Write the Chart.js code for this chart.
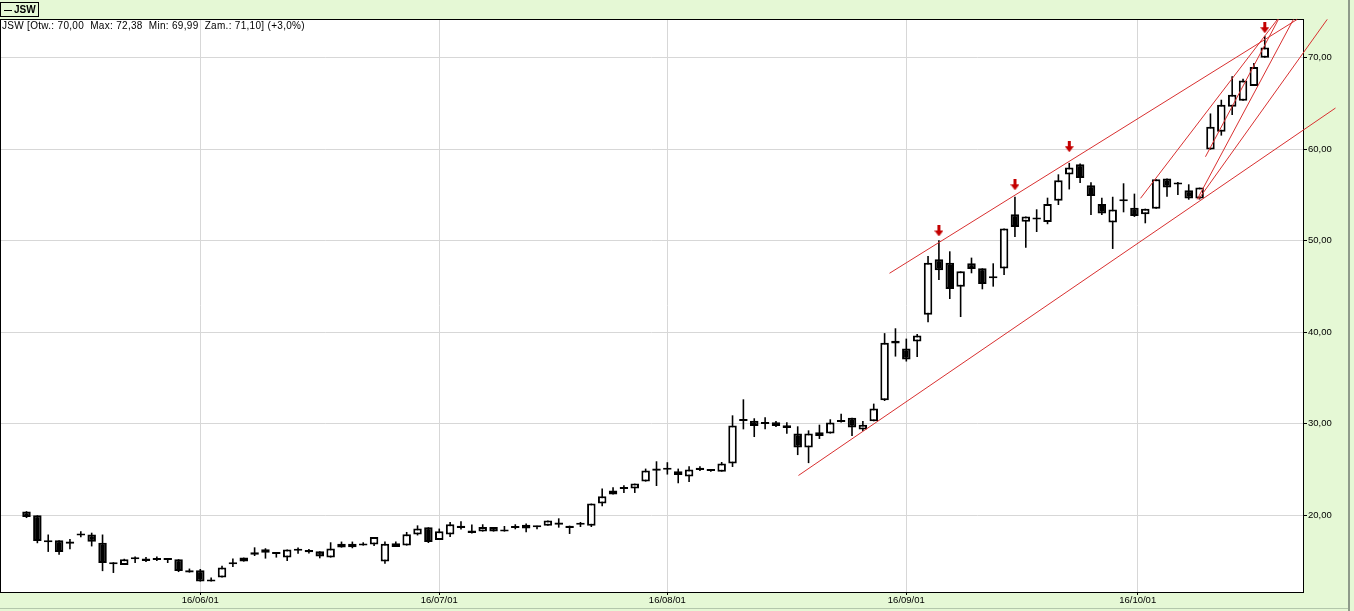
<!DOCTYPE html>
<html>
<head>
<meta charset="utf-8">
<title>JSW</title>
<script src="https://cdn.jsdelivr.net/npm/chart.js@4.4.1/dist/chart.umd.min.js"></script>
<style>
  html, body { margin: 0; padding: 0; background: #e5f8d5; overflow: hidden; }
  #wrap { position: relative; width: 1354px; height: 611px; }
  #jswChart { position: absolute; left: 0; top: 0; }
  #legendBox {
    position: absolute; left: 0; top: 2px; width: 37px; height: 13px;
    border: 1px solid #000; font: bold 10px "Liberation Sans", Arial, sans-serif;
    line-height: 13px; color: #000; white-space: nowrap;
  }
  #legendBox .swatch {
    display: inline-block; width: 8px; height: 1px; background: #000;
    vertical-align: middle; margin: 0 2px 0 3px;
  }
  #info {
    position: absolute; left: 2px; top: 20px;
    font: 10px "Liberation Sans", Arial, sans-serif; letter-spacing: 0.3px;
    line-height: 12px; color: #000; white-space: pre;
  }
</style>
</head>
<body>
<div id="wrap">
  <canvas id="jswChart" width="1354" height="611"></canvas>
  <div id="legendBox"><span class="swatch"></span>JSW</div>
  <div id="info">JSW [Otw.: 70,00  Max: 72,38  Min: 69,99  Zam.: 71,10] (+3,0%)</div>
</div>
<script>
// notowania dzienne JSW, kolejne sesje od 0
const opens = [
    20.42, 20.00, 17.05, 17.27, 16.90, 17.78, 17.90, 17.00, 14.87, 14.57,
    15.38, 15.27, 15.34, 15.30, 15.20, 14.00, 14.00, 12.76, 13.20, 14.65,
    14.94, 15.70, 16.29, 15.96, 15.38, 16.30, 16.20, 16.07, 15.38, 16.47,
    16.90, 16.69, 16.80, 14.94, 16.94, 16.69, 17.89, 18.69, 17.30, 17.89,
    18.87, 18.33, 18.22, 18.72, 18.33, 18.80, 18.98, 18.87, 18.87, 19.20,
    18.87, 18.96, 18.87, 21.28, 22.26, 22.86, 22.92, 23.68, 25.10, 24.98,
    24.80, 24.23, 25.20, 25.00, 24.77, 25.65, 30.45, 30.34, 30.16, 30.16,
    29.83, 28.93, 27.40, 29.07, 28.93, 30.38, 30.67, 29.36, 30.27, 32.56,
    39.08, 38.21, 38.98, 41.90, 47.97, 47.60, 44.98, 47.53, 46.98, 45.90,
    46.95, 52.88, 52.08, 52.32, 52.04, 54.37, 57.24, 58.35, 56.05, 54.00,
    52.00, 54.31, 53.60, 52.88, 53.50, 56.80, 56.14, 55.50, 54.60, 59.95,
    61.90, 64.64, 65.30, 66.90, 70.00
];
const highs = [
    20.45, 20.00, 17.90, 17.27, 17.40, 18.25, 18.10, 17.90, 14.87, 15.25,
    15.50, 15.45, 15.49, 15.30, 15.20, 14.18, 14.13, 13.20, 14.50, 15.27,
    15.38, 16.50, 16.40, 15.96, 16.25, 16.47, 16.32, 16.07, 17.05, 17.13,
    17.13, 17.05, 17.63, 17.13, 17.13, 18.18, 18.90, 18.69, 18.55, 19.27,
    19.34, 19.00, 19.02, 18.72, 18.83, 19.02, 19.09, 18.87, 19.42, 19.67,
    18.87, 19.27, 21.28, 22.92, 23.06, 23.28, 23.46, 25.10, 25.90, 25.80,
    25.10, 25.35, 25.35, 25.05, 25.82, 30.92, 32.67, 30.60, 30.70, 30.30,
    30.16, 29.72, 29.28, 29.90, 30.49, 31.10, 30.67, 30.30, 32.20, 39.90,
    40.43, 39.30, 39.80, 48.33, 50.04, 48.84, 46.65, 48.15, 46.98, 47.53,
    51.32, 54.80, 52.63, 53.43, 54.70, 57.25, 58.50, 58.42, 56.38, 54.70,
    54.80, 56.27, 55.14, 53.50, 56.70, 56.80, 56.40, 56.16, 55.80, 63.90,
    65.40, 67.96, 67.70, 69.40, 72.38
];
const lows = [
    19.70, 16.95, 16.00, 15.70, 16.30, 17.60, 16.60, 13.90, 13.70, 14.57,
    14.80, 14.90, 15.00, 14.79, 13.80, 13.74, 12.76, 12.76, 13.20, 14.35,
    14.94, 15.55, 15.27, 15.38, 15.00, 15.80, 15.82, 15.30, 15.38, 16.47,
    16.40, 16.69, 16.65, 14.70, 16.54, 16.69, 17.80, 16.97, 17.30, 17.63,
    18.44, 18.00, 18.22, 18.22, 18.22, 18.47, 18.14, 18.47, 18.87, 18.65,
    17.96, 18.72, 18.72, 21.00, 22.26, 22.44, 22.44, 23.68, 23.20, 24.45,
    23.50, 23.64, 24.85, 24.77, 24.77, 25.28, 29.39, 28.55, 29.39, 29.65,
    28.90, 26.58, 25.70, 28.34, 28.93, 30.13, 28.66, 29.20, 30.27, 32.49,
    37.34, 36.80, 37.30, 41.08, 45.70, 43.63, 41.66, 46.44, 44.69, 44.98,
    46.25, 50.40, 49.24, 50.95, 51.80, 53.90, 55.60, 56.30, 52.80, 52.80,
    49.10, 53.10, 52.60, 51.90, 53.50, 54.80, 55.00, 54.48, 54.50, 59.95,
    61.48, 63.73, 65.30, 66.90, 69.99
];
const closes = [
    19.82, 17.20, 17.25, 16.00, 17.15, 17.80, 17.10, 14.80, 14.65, 15.20,
    15.19, 15.00, 15.12, 15.12, 13.92, 13.74, 12.76, 12.98, 14.29, 14.87,
    15.38, 15.96, 15.90, 15.77, 16.25, 16.14, 15.96, 15.49, 16.36, 16.90,
    16.50, 16.90, 17.63, 16.90, 16.54, 17.92, 18.55, 17.08, 18.25, 19.02,
    18.62, 18.07, 18.72, 18.22, 18.22, 18.61, 18.55, 18.69, 19.42, 18.98,
    18.62, 18.98, 21.28, 22.08, 22.70, 22.90, 23.46, 24.90, 24.88, 25.00,
    24.40, 25.00, 24.95, 24.84, 25.65, 29.80, 30.30, 29.76, 29.97, 29.76,
    29.54, 27.40, 28.93, 28.66, 30.13, 30.19, 29.58, 29.90, 31.66, 38.86,
    38.76, 37.01, 39.63, 47.60, 46.76, 44.72, 46.65, 46.90, 45.27, 45.93,
    51.32, 51.50, 52.63, 52.36, 54.00, 56.60, 58.00, 56.85, 54.88, 52.96,
    53.40, 54.33, 52.70, 53.50, 56.70, 55.80, 56.16, 54.60, 55.80, 62.46,
    64.86, 65.95, 67.50, 68.97, 71.10
];

// podpisy osi: numer sesji -> etykieta daty
const xTickPos = [16, 38, 59, 81, 102.3];
const xTickLabels = ['16/06/01', '16/07/01', '16/08/01', '16/09/01', '16/10/01'];
const yTicks = [20, 30, 40, 50, 60, 70];

// linie trendu [sesja, kurs] poczatek i koniec
const trendFrom = [[79.45, 46.44], [71.07, 24.35], [102.56, 54.63], [108.54, 59.17], [107.78, 54.52], [107.90, 54.52]];
const trendTo = [[116.99, 74.18], [120.51, 64.49], [115.17, 74.18], [115.26, 74.18], [116.64, 74.18], [119.75, 74.18]];

// strzalki nad szczytami
const arrowIdx = [84, 91, 96, 114];
const arrowVal = [51.06, 56.11, 60.27, 73.27];

const greenBg = '#e5f8d5';
const redLine = '#d93030';

// strzalka jako obrazek punktu
const arrowImg = document.createElement('canvas');
arrowImg.width = 9;
arrowImg.height = 11;
const actx = arrowImg.getContext('2d');
actx.fillStyle = '#c40000';
actx.fillRect(3, 0, 3, 6);
actx.beginPath();
actx.moveTo(0, 5);
actx.lineTo(9, 5);
actx.lineTo(4.5, 11);
actx.closePath();
actx.fill();

const frame = {
    id: 'frame',
    beforeDraw(chart) {
        const { ctx, chartArea: a, width, height } = chart;
        ctx.save();
        ctx.fillStyle = greenBg;
        ctx.fillRect(0, 0, width, height);
        ctx.fillStyle = '#ffffff';
        ctx.fillRect(a.left, a.top, a.right - a.left, a.bottom - a.top);
        ctx.fillStyle = '#b3c7ab';
        ctx.fillRect(0, 608, 1348, 1);
        ctx.fillStyle = '#8e9a8a';
        ctx.fillRect(1348, 0, 2, height);
        ctx.restore();
    },
    beforeDatasetsDraw(chart) {
        const { ctx, chartArea: a } = chart;
        ctx.save();
        ctx.fillStyle = '#000';
        ctx.fillRect(a.left, a.top, a.right - a.left + 1, 1);
        ctx.fillRect(a.left, a.top, 1, a.bottom - a.top);
        ctx.restore();
    }
};

const trendSets = trendFrom.map((p, i) => ({
    type: 'line',
    data: [{ x: p[0], y: p[1] }, { x: trendTo[i][0], y: trendTo[i][1] }],
    borderColor: redLine,
    borderWidth: 1,
    pointRadius: 0,
    clip: false,
    order: 0
}));

Chart.defaults.font.family = '"Liberation Sans", Arial, sans-serif';

new Chart(document.getElementById('jswChart'), {
    type: 'bar',
    data: {
        datasets: [
            ...trendSets,
            {
                type: 'line',
                data: arrowIdx.map((x, i) => ({ x: x, y: arrowVal[i] })),
                showLine: false,
                pointStyle: arrowImg,
                clip: false,
                order: 0
            },
            {
                // korpusy swiec
                data: opens.map((o, i) => ({ x: i, y: [o, closes[i]] })),
                backgroundColor: opens.map((o, i) => closes[i] >= o ? '#ffffff' : '#000000'),
                borderColor: '#000000',
                borderWidth: 2,
                borderSkipped: false,
                barThickness: 8.5,
                minBarLength: 2,
                grouped: false,
                inflateAmount: 0,
                order: 1
            },
            {
                // cienie
                data: lows.map((l, i) => ({ x: i, y: [l, highs[i]] })),
                backgroundColor: '#000000',
                borderWidth: 0,
                barThickness: 1.6,
                grouped: false,
                inflateAmount: 0,
                order: 2
            }
        ]
    },
    options: {
        responsive: false,
        devicePixelRatio: 1,
        animation: false,
        events: [],
        layout: { autoPadding: false, padding: { left: 0, top: 19, right: 0, bottom: 0 } },
        plugins: {
            legend: { display: false },
            tooltip: { enabled: false }
        },
        scales: {
            x: {
                type: 'linear',
                min: -2.44,
                max: 117.52,
                offset: false,
                grid: { color: '#d7d7d7', offset: false, tickColor: '#000', tickLength: 3 },
                border: { color: '#000' },
                ticks: {
                    color: '#000',
                    font: { size: 9.5 },
                    padding: 0,
                    autoSkip: false,
                    maxRotation: 0,
                    minRotation: 0,
                    callback: (value, index) => xTickLabels[index]
                },
                afterBuildTicks: (scale) => {
                    scale.ticks = xTickPos.map(v => ({ value: v }));
                },
                afterFit: (scale) => {
                    scale.height = 19;
                    scale.paddingLeft = 0;
                    scale.paddingRight = 0;
                }
            },
            y: {
                type: 'linear',
                position: 'right',
                min: 11.62,
                max: 74.22,
                grid: { color: '#d7d7d7', tickColor: '#000', tickLength: 4 },
                border: { color: '#000' },
                ticks: {
                    color: '#000',
                    font: { size: 9.5 },
                    padding: 1,
                    callback: (value) => value.toFixed(2).replace('.', ',')
                },
                afterBuildTicks: (scale) => {
                    scale.ticks = yTicks.map(v => ({ value: v }));
                },
                afterFit: (scale) => {
                    scale.width = 51;
                    scale.paddingTop = 0;
                    scale.paddingBottom = 0;
                }
            }
        }
    },
    plugins: [frame]
});
</script>
</body>
</html>
